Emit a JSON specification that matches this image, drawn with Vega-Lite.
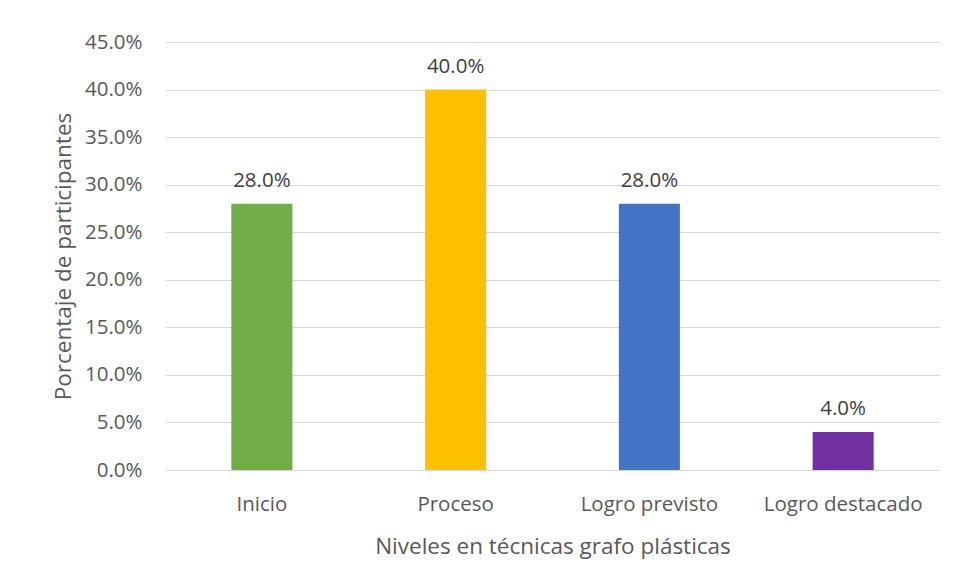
{
  "$schema": "https://vega.github.io/schema/vega-lite/v6.json",
  "autosize": "none",
  "width": 775,
  "height": 428,
  "padding": {"left": 165, "top": 42, "right": 16, "bottom": 111},
  "background": "white",
  "config": {
    "view": {"stroke": null},
    "font": "Open Sans",
    "axis": {"labelColor": "#595959", "titleColor": "#595959", "labelFont": "Open Sans", "titleFont": "Open Sans", "titleFontWeight": "normal"}
  },
  "data": {
    "values": [
      {"nivel": "Inicio", "pct": 0.28},
      {"nivel": "Proceso", "pct": 0.40},
      {"nivel": "Logro previsto", "pct": 0.28},
      {"nivel": "Logro destacado", "pct": 0.04}
    ]
  },
  "encoding": {
    "x": {
      "field": "nivel", "type": "nominal", "sort": null,
      "scale": {"paddingInner": 0.685, "paddingOuter": 0.3425},
      "axis": {"title": "Niveles en técnicas grafo plásticas", "labelAngle": 0, "labelFontSize": 20.5, "titleFontSize": 22.5, "domain": false, "ticks": false, "labelPadding": 24, "titlePadding": 21}
    },
    "y": {
      "field": "pct", "type": "quantitative",
      "scale": {"domain": [0, 0.45], "nice": false},
      "axis": {"title": "Porcentaje de participantes", "format": ".1%", "values": [0, 0.05, 0.1, 0.15, 0.2, 0.25, 0.3, 0.35, 0.4, 0.45], "labelFontSize": 20.5, "titleFontSize": 22.5, "domain": false, "ticks": false, "labelPadding": 23, "titlePadding": 9, "gridColor": "#D9D9D9", "gridWidth": 1}
    }
  },
  "layer": [
    {
      "mark": {"type": "bar"},
      "encoding": {
        "color": {"field": "nivel", "type": "nominal", "sort": null, "scale": {"domain": ["Inicio", "Proceso", "Logro previsto", "Logro destacado"], "range": ["#70AD47", "#FFC000", "#4472C4", "#7030A0"]}, "legend": null}
      }
    },
    {
      "mark": {"type": "text", "dy": -23, "fontSize": 20.5, "color": "#404040", "font": "Open Sans"},
      "encoding": {"text": {"field": "pct", "type": "quantitative", "format": ".1%"}}
    }
  ]
}
